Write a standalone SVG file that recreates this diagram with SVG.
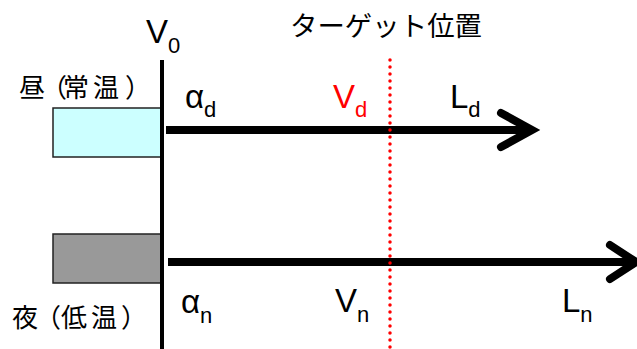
<svg xmlns="http://www.w3.org/2000/svg" width="637" height="349" viewBox="0 0 637 349">
<style>
.lat{font-family:"Liberation Sans","Noto Sans",Arial,sans-serif;font-size:33px;fill:#000}
.sub{font-size:22px}
.jp{font-family:"Noto Sans CJK JP","Noto Sans CJK SC",sans-serif;fill:#000}
.red{fill:#ff0000}
.axis{stroke:#000;stroke-width:4;fill:none}
.arrow{stroke:#000;stroke-width:8;fill:none}
.head{stroke:#000;stroke-width:8;fill:none;stroke-linecap:round;stroke-linejoin:miter}
.dot{stroke:#ff0000;stroke-width:3.5;stroke-linecap:round;stroke-dasharray:0 7;fill:none}
.box{stroke:#222;stroke-width:1.5}
</style>
<rect width="637" height="349" fill="#fff"/>
<g id="day-box"><rect class="box" x="53" y="108" width="108" height="49" fill="#ccffff"/></g>
<g id="night-box"><rect class="box" x="53" y="234" width="108" height="49" fill="#999999"/></g>
<g id="connectors">
<line class="axis" x1="162" y1="60" x2="162" y2="349"/>
<line class="arrow" x1="166" y1="130" x2="528" y2="130"/>
<polyline class="head" points="501,113 532,130 501,147"/>
<line class="arrow" x1="168" y1="262" x2="632" y2="262"/>
<polyline class="head" points="610,245 636,262 610,279"/>
<line class="dot" x1="390" y1="60" x2="390" y2="349"/>
</g>
<g id="labels">
<text class="lat" x="146" y="43">V<tspan class="sub" dy="10">0</tspan></text>
<text class="jp" x="290" y="36" font-size="27" textLength="192" lengthAdjust="spacingAndGlyphs">ターゲット位置</text>
<text class="jp" x="19 41 63 93 125" y="97" font-size="26">昼（常温）</text>
<text class="jp" x="12 35 61 91 121" y="327" font-size="26">夜（低温）</text>
<text class="lat" x="185" y="108">α<tspan class="sub" dy="9">d</tspan></text>
<text class="lat red" x="333" y="108">V<tspan class="sub" dy="9">d</tspan></text>
<text class="lat" x="450" y="108">L<tspan class="sub" dy="9">d</tspan></text>
<text class="lat" x="181" y="313">α<tspan class="sub" dy="10">n</tspan></text>
<text class="lat" x="335" y="312">V<tspan class="sub" dy="10">n</tspan></text>
<text class="lat" x="562" y="312">L<tspan class="sub" dy="10">n</tspan></text>
</g>
</svg>
